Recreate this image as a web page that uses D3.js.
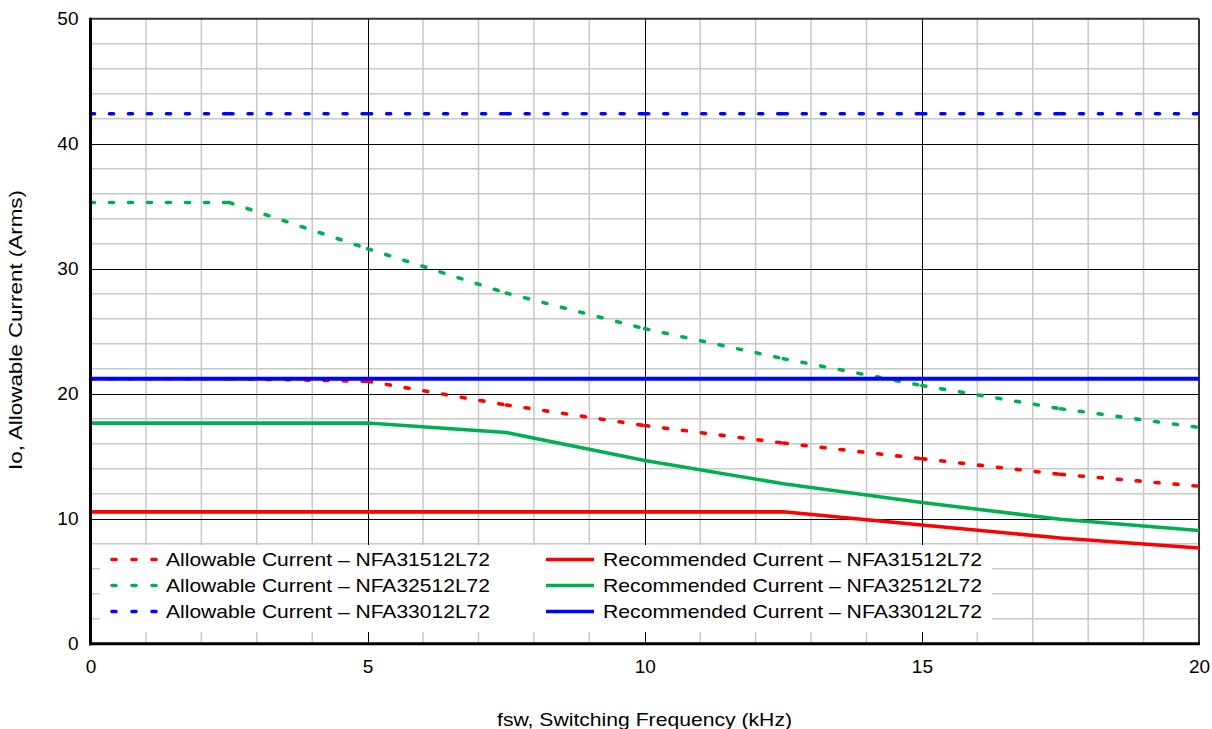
<!DOCTYPE html>
<html><head><meta charset="utf-8">
<script src="https://cdn.jsdelivr.net/npm/d3@7"></script>
<style>body{margin:0;background:#fff}svg{display:block;font-family:"Liberation Sans",Arial,Helvetica,sans-serif}</style>
</head><body><svg id="c" width="1212" height="729"></svg>
<script>
const freq = [0, 2.5, 5, 7.5, 10, 12.5, 15, 17.5, 20];
const allow31 = [21.2, 21.2, 21.0, 19.1, 17.45, 16.05, 14.8, 13.55, 12.6];
const allow32 = [35.3, 35.3, 31.6, 28.05, 25.2, 22.8, 20.65, 18.8, 17.3];
const allow33 = [42.4, 42.4, 42.4, 42.4, 42.4, 42.4, 42.4, 42.4, 42.4];
const rec31 = [10.55, 10.55, 10.55, 10.55, 10.55, 10.55, 9.5, 8.45, 7.65];
const rec32 = [17.65, 17.65, 17.65, 16.9, 14.65, 12.8, 11.3, 9.95, 9.05];
const rec33 = [21.2, 21.2, 21.2, 21.2, 21.2, 21.2, 21.2, 21.2, 21.2];
const xTicks = [0, 5, 10, 15, 20];
const yTicks = [0, 10, 20, 30, 40, 50];
const seriesNames = [
  "Allowable Current \u2013 NFA31512L72",
  "Allowable Current \u2013 NFA32512L72",
  "Allowable Current \u2013 NFA33012L72",
  "Recommended Current \u2013 NFA31512L72",
  "Recommended Current \u2013 NFA32512L72",
  "Recommended Current \u2013 NFA33012L72"
];
const seriesValues = [allow31, allow32, allow33, rec31, rec32, rec33];
const colors = ["#ff0000", "#00b050", "#0000ff", "#ff0000", "#00b050", "#0000ff"];
const dashed = [true, true, true, false, false, false];

const svg = d3.select("#c");
const L = 90.5, R = 1199, T = 18.7, B = 643.7;
const x = d3.scaleLinear().domain([0, 20]).range([L, R]);
const y = d3.scaleLinear().domain([0, 50]).range([B, T]);

const g = svg.append("g");
// minor grid
g.selectAll(".mx").data(d3.range(1, 20).filter(v => v % 5 !== 0)).join("line")
  .attr("x1", d => x(d)).attr("x2", d => x(d)).attr("y1", T).attr("y2", B)
  .attr("stroke", "#c8c8c8").attr("stroke-width", 1.5);
g.selectAll(".my").data(d3.range(2, 50, 2).filter(v => v % 10 !== 0)).join("line")
  .attr("y1", d => y(d)).attr("y2", d => y(d)).attr("x1", L).attr("x2", R)
  .attr("stroke", "#c8c8c8").attr("stroke-width", 1.5);
// major grid
g.selectAll(".Mx").data([5, 10, 15]).join("line")
  .attr("x1", d => Math.round(x(d)) + 0.5).attr("x2", d => Math.round(x(d)) + 0.5).attr("y1", T).attr("y2", B)
  .attr("stroke", "#000").attr("stroke-width", 1);
g.selectAll(".My").data([10, 20, 30, 40]).join("line")
  .attr("y1", d => Math.round(y(d)) + 0.5).attr("y2", d => Math.round(y(d)) + 0.5).attr("x1", L).attr("x2", R)
  .attr("stroke", "#000").attr("stroke-width", 1);

// legend background
svg.append("rect").attr("x", 100).attr("y", 545).attr("width", 892).attr("height", 87).attr("fill", "#fff");

// frame
svg.append("line").attr("x1", L).attr("x2", R).attr("y1", T).attr("y2", T).attr("stroke", "#333").attr("stroke-width", 2);
svg.append("line").attr("x1", R).attr("x2", R).attr("y1", T).attr("y2", B).attr("stroke", "#333").attr("stroke-width", 2);

// data lines
const line = d3.line().x((d, i) => x(freq[i])).y(d => y(d));
seriesValues.forEach((vals, k) => {
  if (dashed[k]) {
    for (let i = 0; i < vals.length - 1; i++) {
      svg.append("path").datum([vals[i], vals[i + 1]])
        .attr("d", d3.line().x((d, j) => x(freq[i + j])).y(d => y(d)))
        .attr("fill", "none").attr("stroke", colors[k]).attr("stroke-width", 3.6)
        .attr("stroke-dasharray", "4,15").attr("stroke-linecap", "round");
    }
  } else {
    svg.append("path").datum(vals).attr("d", line)
      .attr("fill", "none").attr("stroke", colors[k]).attr("stroke-width", k === 5 ? 4 : 3.6)
      .attr("stroke-linejoin", "round");
  }
});

// axes
svg.append("line").attr("x1", L).attr("x2", L).attr("y1", T - 1).attr("y2", B + 1.5).attr("stroke", "#000").attr("stroke-width", 3);
svg.append("line").attr("x1", L - 1.5).attr("x2", R + 1).attr("y1", B).attr("y2", B).attr("stroke", "#000").attr("stroke-width", 3);

const xa = svg.append("g").attr("transform", `translate(0,${B})`)
  .call(d3.axisBottom(x).tickValues(xTicks).tickSize(0).tickPadding(16));
xa.select(".domain").remove();
xa.selectAll("text").attr("font-size", 19).attr("fill", "#000").attr("font-family", "Liberation Sans, Arial, sans-serif");
const ya = svg.append("g").attr("transform", `translate(${L},0)`)
  .call(d3.axisLeft(y).tickValues(yTicks).tickSize(0).tickPadding(12));
ya.select(".domain").remove();
ya.selectAll("text").attr("font-size", 19).attr("fill", "#000").attr("font-family", "Liberation Sans, Arial, sans-serif");

svg.append("text").attr("x", 497).attr("y", 726)
  .attr("font-size", 19).attr("textLength", 295).attr("lengthAdjust", "spacingAndGlyphs")
  .text("fsw, Switching Frequency (kHz)");
svg.append("text").attr("transform", `translate(22,470) rotate(-90)`)
  .attr("font-size", 19).attr("textLength", 280).attr("lengthAdjust", "spacingAndGlyphs")
  .text("Io, Allowable Current (Arms)");

// legend
const legX = [110, 546], legTX = [166, 603], legY = [559.5, 585.5, 611.5], legW = [324, 379];
seriesNames.forEach((name, k) => {
  const col = k < 3 ? 0 : 1, row = k % 3;
  svg.append("line").attr("x1", legX[col] + (dashed[k] ? 2 : 0)).attr("x2", legX[col] + 48 - (dashed[k] ? 2 : 0))
    .attr("y1", legY[row]).attr("y2", legY[row])
    .attr("stroke", colors[k]).attr("stroke-width", 3.6)
    .attr("stroke-dasharray", dashed[k] ? "4,16" : null).attr("stroke-linecap", dashed[k] ? "round" : "butt");
  svg.append("text").attr("x", legTX[col]).attr("y", legY[row]).attr("dy", "0.36em")
    .attr("font-size", 18.5).attr("fill", "#000")
    .attr("textLength", legW[col]).attr("lengthAdjust", "spacingAndGlyphs").text(name);
});
</script></body></html>
